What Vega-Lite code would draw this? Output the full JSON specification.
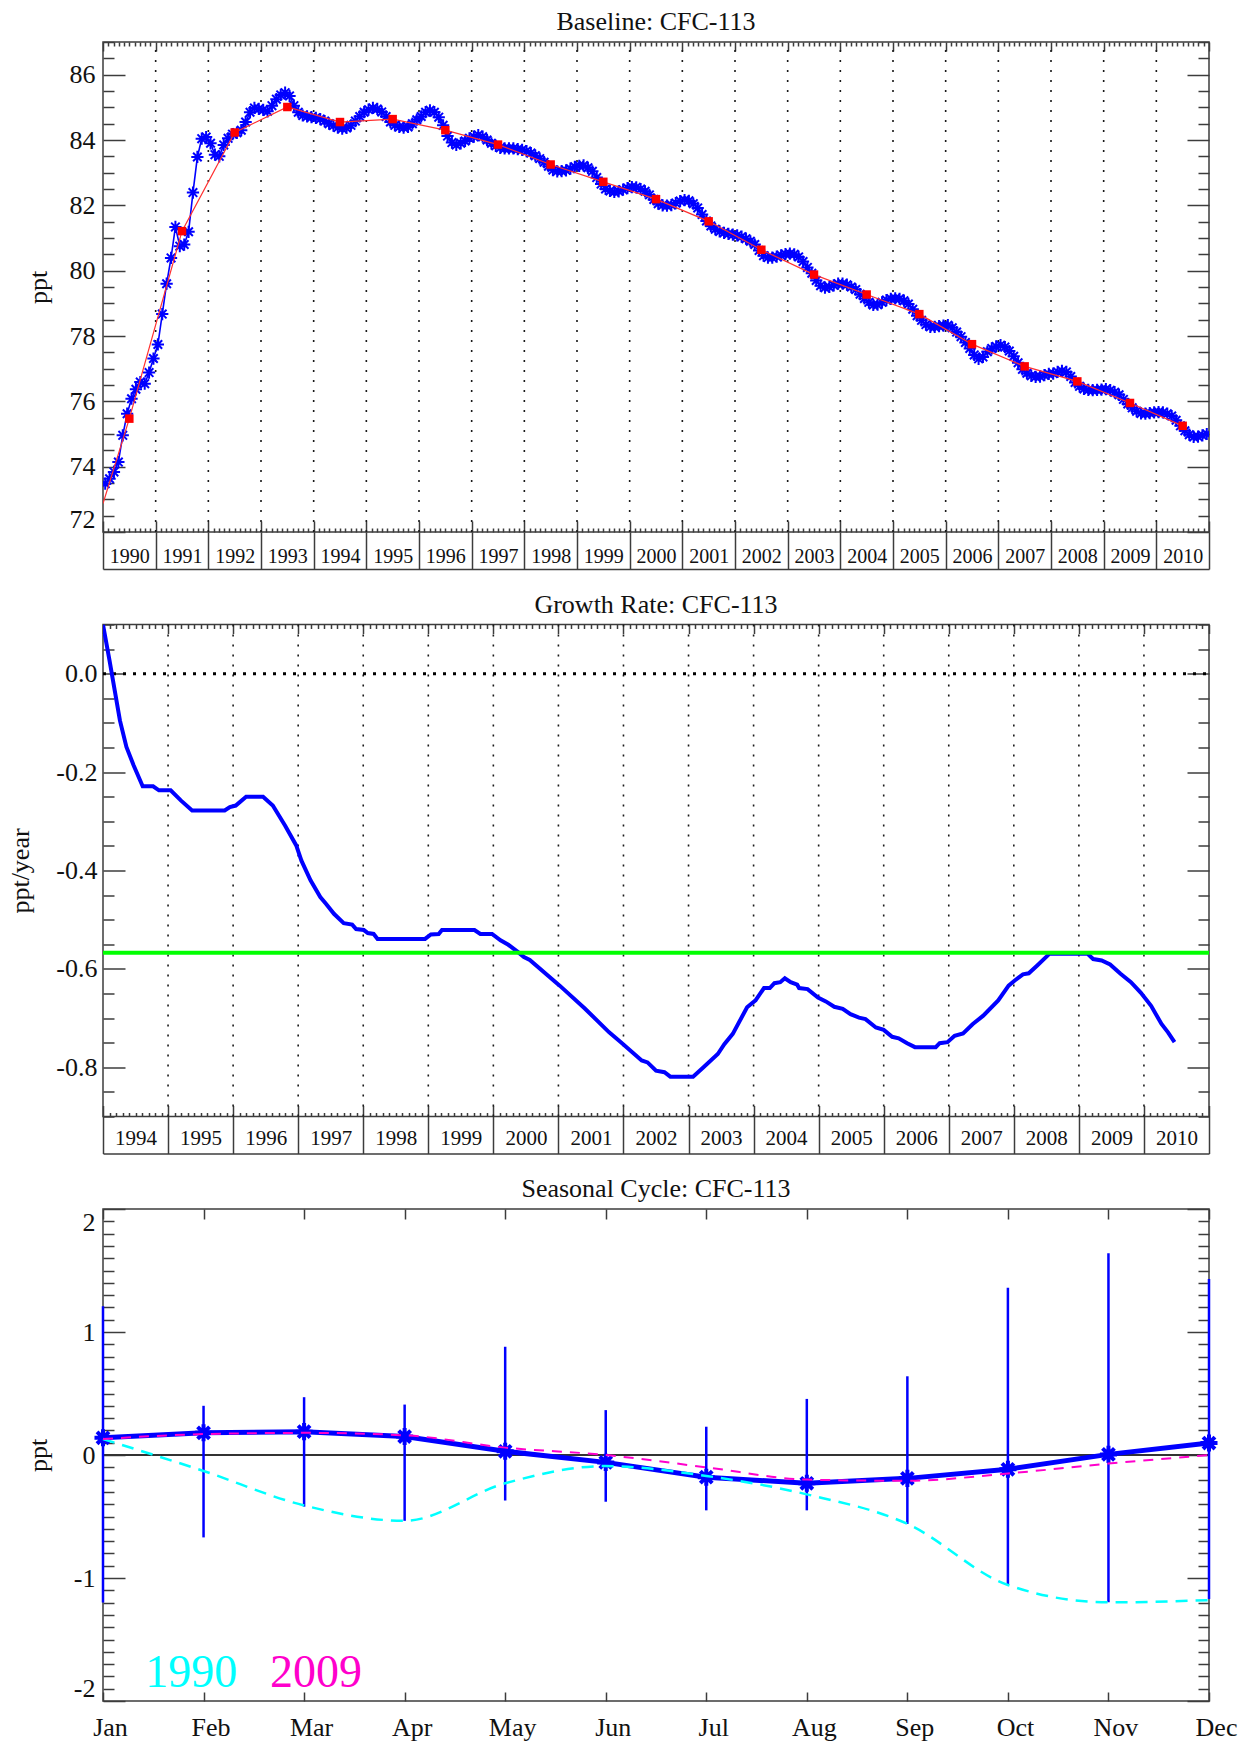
{
  "$schema": "https://vega.github.io/schema/vega-lite/v6.json",
  "background": "white",
  "padding": {"left": 7, "top": 8, "right": 10, "bottom": 2},
  "config": {
    "font": "Liberation Serif",
    "view": {"stroke": "#3c3c3c", "strokeWidth": 1.5},
    "axis": {
      "domain": false,
      "grid": false,
      "labels": false,
      "tickColor": "#3c3c3c",
      "tickWidth": 1.5,
      "labelFont": "Liberation Serif",
      "labelFontSize": 26,
      "labelColor": "#111111",
      "titleFont": "Liberation Serif",
      "titleFontSize": 26,
      "titleFontWeight": "normal",
      "titleColor": "#111111"
    },
    "title": {"font": "Liberation Serif", "fontSize": 26, "fontWeight": "normal", "color": "#111111"}
  },
  "datasets": {
    "base_monthly": [
      {"t":1990.042,"ppt":73.48},{"t":1990.125,"ppt":73.63},{"t":1990.208,"ppt":73.84},{"t":1990.292,"ppt":74.14},{"t":1990.375,"ppt":74.96},{"t":1990.458,"ppt":75.62},{"t":1990.542,"ppt":76.08},{"t":1990.625,"ppt":76.37},{"t":1990.708,"ppt":76.59},{"t":1990.792,"ppt":76.54},{"t":1990.875,"ppt":76.88},{"t":1990.958,"ppt":77.31},
      {"t":1991.042,"ppt":77.74},{"t":1991.125,"ppt":78.67},{"t":1991.208,"ppt":79.60},{"t":1991.292,"ppt":80.39},{"t":1991.375,"ppt":81.34},{"t":1991.458,"ppt":80.75},{"t":1991.542,"ppt":80.80},{"t":1991.625,"ppt":81.19},{"t":1991.708,"ppt":82.39},{"t":1991.792,"ppt":83.48},{"t":1991.875,"ppt":84.04},{"t":1991.958,"ppt":84.09},
      {"t":1992.042,"ppt":83.90},{"t":1992.125,"ppt":83.55},{"t":1992.208,"ppt":83.50},{"t":1992.292,"ppt":83.85},{"t":1992.375,"ppt":84.05},{"t":1992.458,"ppt":84.18},{"t":1992.542,"ppt":84.22},{"t":1992.625,"ppt":84.30},{"t":1992.708,"ppt":84.55},{"t":1992.792,"ppt":84.85},{"t":1992.875,"ppt":84.98},{"t":1992.958,"ppt":84.95},
      {"t":1993.042,"ppt":84.92},{"t":1993.125,"ppt":84.88},{"t":1993.208,"ppt":85.05},{"t":1993.292,"ppt":85.25},{"t":1993.375,"ppt":85.38},{"t":1993.458,"ppt":85.45},{"t":1993.542,"ppt":85.35},{"t":1993.625,"ppt":85.05},{"t":1993.708,"ppt":84.85},{"t":1993.792,"ppt":84.75},{"t":1993.875,"ppt":84.72},{"t":1993.958,"ppt":84.70},
      {"t":1994.042,"ppt":84.68},{"t":1994.125,"ppt":84.64},{"t":1994.208,"ppt":84.58},{"t":1994.292,"ppt":84.50},{"t":1994.375,"ppt":84.44},{"t":1994.458,"ppt":84.38},{"t":1994.542,"ppt":84.35},{"t":1994.625,"ppt":84.37},{"t":1994.708,"ppt":84.45},{"t":1994.792,"ppt":84.58},{"t":1994.875,"ppt":84.72},{"t":1994.958,"ppt":84.85},
      {"t":1995.042,"ppt":84.93},{"t":1995.125,"ppt":84.98},{"t":1995.208,"ppt":84.95},{"t":1995.292,"ppt":84.86},{"t":1995.375,"ppt":84.72},{"t":1995.458,"ppt":84.55},{"t":1995.542,"ppt":84.45},{"t":1995.625,"ppt":84.40},{"t":1995.708,"ppt":84.38},{"t":1995.792,"ppt":84.40},{"t":1995.875,"ppt":84.50},{"t":1995.958,"ppt":84.62},
      {"t":1996.042,"ppt":84.72},{"t":1996.125,"ppt":84.85},{"t":1996.208,"ppt":84.91},{"t":1996.292,"ppt":84.85},{"t":1996.375,"ppt":84.70},{"t":1996.458,"ppt":84.45},{"t":1996.542,"ppt":84.12},{"t":1996.625,"ppt":83.92},{"t":1996.708,"ppt":83.85},{"t":1996.792,"ppt":83.90},{"t":1996.875,"ppt":83.97},{"t":1996.958,"ppt":84.05},
      {"t":1997.042,"ppt":84.10},{"t":1997.125,"ppt":84.15},{"t":1997.208,"ppt":84.10},{"t":1997.292,"ppt":84.00},{"t":1997.375,"ppt":83.90},{"t":1997.458,"ppt":83.82},{"t":1997.542,"ppt":83.76},{"t":1997.625,"ppt":83.74},{"t":1997.708,"ppt":83.74},{"t":1997.792,"ppt":83.74},{"t":1997.875,"ppt":83.72},{"t":1997.958,"ppt":83.70},
      {"t":1998.042,"ppt":83.66},{"t":1998.125,"ppt":83.60},{"t":1998.208,"ppt":83.52},{"t":1998.292,"ppt":83.43},{"t":1998.375,"ppt":83.32},{"t":1998.458,"ppt":83.20},{"t":1998.542,"ppt":83.08},{"t":1998.625,"ppt":83.04},{"t":1998.708,"ppt":83.05},{"t":1998.792,"ppt":83.07},{"t":1998.875,"ppt":83.12},{"t":1998.958,"ppt":83.18},
      {"t":1999.042,"ppt":83.21},{"t":1999.125,"ppt":83.22},{"t":1999.208,"ppt":83.15},{"t":1999.292,"ppt":83.04},{"t":1999.375,"ppt":82.85},{"t":1999.458,"ppt":82.65},{"t":1999.542,"ppt":82.50},{"t":1999.625,"ppt":82.44},{"t":1999.708,"ppt":82.41},{"t":1999.792,"ppt":82.43},{"t":1999.875,"ppt":82.48},{"t":1999.958,"ppt":82.53},
      {"t":2000.042,"ppt":82.56},{"t":2000.125,"ppt":82.55},{"t":2000.208,"ppt":82.50},{"t":2000.292,"ppt":82.43},{"t":2000.375,"ppt":82.32},{"t":2000.458,"ppt":82.18},{"t":2000.542,"ppt":82.05},{"t":2000.625,"ppt":82.00},{"t":2000.708,"ppt":81.99},{"t":2000.792,"ppt":82.01},{"t":2000.875,"ppt":82.07},{"t":2000.958,"ppt":82.13},
      {"t":2001.042,"ppt":82.16},{"t":2001.125,"ppt":82.14},{"t":2001.208,"ppt":82.05},{"t":2001.292,"ppt":81.92},{"t":2001.375,"ppt":81.72},{"t":2001.458,"ppt":81.52},{"t":2001.542,"ppt":81.37},{"t":2001.625,"ppt":81.27},{"t":2001.708,"ppt":81.20},{"t":2001.792,"ppt":81.16},{"t":2001.875,"ppt":81.13},{"t":2001.958,"ppt":81.10},
      {"t":2002.042,"ppt":81.08},{"t":2002.125,"ppt":81.04},{"t":2002.208,"ppt":80.98},{"t":2002.292,"ppt":80.90},{"t":2002.375,"ppt":80.80},{"t":2002.458,"ppt":80.62},{"t":2002.542,"ppt":80.46},{"t":2002.625,"ppt":80.40},{"t":2002.708,"ppt":80.40},{"t":2002.792,"ppt":80.43},{"t":2002.875,"ppt":80.47},{"t":2002.958,"ppt":80.51},
      {"t":2003.042,"ppt":80.52},{"t":2003.125,"ppt":80.50},{"t":2003.208,"ppt":80.42},{"t":2003.292,"ppt":80.28},{"t":2003.375,"ppt":80.10},{"t":2003.458,"ppt":79.92},{"t":2003.542,"ppt":79.70},{"t":2003.625,"ppt":79.54},{"t":2003.708,"ppt":79.48},{"t":2003.792,"ppt":79.50},{"t":2003.875,"ppt":79.55},{"t":2003.958,"ppt":79.60},
      {"t":2004.042,"ppt":79.60},{"t":2004.125,"ppt":79.57},{"t":2004.208,"ppt":79.50},{"t":2004.292,"ppt":79.42},{"t":2004.375,"ppt":79.28},{"t":2004.458,"ppt":79.15},{"t":2004.542,"ppt":79.03},{"t":2004.625,"ppt":78.95},{"t":2004.708,"ppt":78.96},{"t":2004.792,"ppt":79.03},{"t":2004.875,"ppt":79.10},{"t":2004.958,"ppt":79.14},
      {"t":2005.042,"ppt":79.15},{"t":2005.125,"ppt":79.14},{"t":2005.208,"ppt":79.08},{"t":2005.292,"ppt":78.98},{"t":2005.375,"ppt":78.82},{"t":2005.458,"ppt":78.62},{"t":2005.542,"ppt":78.48},{"t":2005.625,"ppt":78.35},{"t":2005.708,"ppt":78.28},{"t":2005.792,"ppt":78.28},{"t":2005.875,"ppt":78.30},{"t":2005.958,"ppt":78.32},
      {"t":2006.042,"ppt":78.33},{"t":2006.125,"ppt":78.25},{"t":2006.208,"ppt":78.12},{"t":2006.292,"ppt":77.98},{"t":2006.375,"ppt":77.80},{"t":2006.458,"ppt":77.62},{"t":2006.542,"ppt":77.42},{"t":2006.625,"ppt":77.30},{"t":2006.708,"ppt":77.36},{"t":2006.792,"ppt":77.52},{"t":2006.875,"ppt":77.62},{"t":2006.958,"ppt":77.68},
      {"t":2007.042,"ppt":77.72},{"t":2007.125,"ppt":77.66},{"t":2007.208,"ppt":77.54},{"t":2007.292,"ppt":77.38},{"t":2007.375,"ppt":77.18},{"t":2007.458,"ppt":76.98},{"t":2007.542,"ppt":76.86},{"t":2007.625,"ppt":76.78},{"t":2007.708,"ppt":76.75},{"t":2007.792,"ppt":76.76},{"t":2007.875,"ppt":76.80},{"t":2007.958,"ppt":76.84},
      {"t":2008.042,"ppt":76.85},{"t":2008.125,"ppt":76.90},{"t":2008.208,"ppt":76.93},{"t":2008.292,"ppt":76.90},{"t":2008.375,"ppt":76.76},{"t":2008.458,"ppt":76.58},{"t":2008.542,"ppt":76.46},{"t":2008.625,"ppt":76.38},{"t":2008.708,"ppt":76.35},{"t":2008.792,"ppt":76.34},{"t":2008.875,"ppt":76.35},{"t":2008.958,"ppt":76.36},
      {"t":2009.042,"ppt":76.37},{"t":2009.125,"ppt":76.34},{"t":2009.208,"ppt":76.28},{"t":2009.292,"ppt":76.20},{"t":2009.375,"ppt":76.06},{"t":2009.458,"ppt":75.92},{"t":2009.542,"ppt":75.80},{"t":2009.625,"ppt":75.70},{"t":2009.708,"ppt":75.63},{"t":2009.792,"ppt":75.62},{"t":2009.875,"ppt":75.64},{"t":2009.958,"ppt":75.66},
      {"t":2010.042,"ppt":75.67},{"t":2010.125,"ppt":75.66},{"t":2010.208,"ppt":75.62},{"t":2010.292,"ppt":75.55},{"t":2010.375,"ppt":75.42},{"t":2010.458,"ppt":75.25},{"t":2010.542,"ppt":75.10},{"t":2010.625,"ppt":74.98},{"t":2010.708,"ppt":74.91},{"t":2010.792,"ppt":74.92},{"t":2010.875,"ppt":74.96},{"t":2010.958,"ppt":75.00}
    ],
    "base_annual": [
      {"t":1990.5,"ppt":75.47},{"t":1991.5,"ppt":81.21},{"t":1992.5,"ppt":84.23},{"t":1993.5,"ppt":85.01},{"t":1994.5,"ppt":84.55},{"t":1995.5,"ppt":84.64},{"t":1996.5,"ppt":84.30},{"t":1997.5,"ppt":83.86},{"t":1998.5,"ppt":83.25},{"t":1999.5,"ppt":82.72},{"t":2000.5,"ppt":82.19},{"t":2001.5,"ppt":81.51},{"t":2002.5,"ppt":80.64},{"t":2003.5,"ppt":79.88},{"t":2004.5,"ppt":79.27},{"t":2005.5,"ppt":78.67},{"t":2006.5,"ppt":77.75},{"t":2007.5,"ppt":77.07},{"t":2008.5,"ppt":76.61},{"t":2009.5,"ppt":75.95},{"t":2010.5,"ppt":75.25}
    ],
    "base_trend": [
      {"t":1990.0,"ppt":72.87},{"t":1990.5,"ppt":75.47},{"t":1991.5,"ppt":81.21},{"t":1992.5,"ppt":84.23},{"t":1993.5,"ppt":85.01},{"t":1994.5,"ppt":84.55},{"t":1995.5,"ppt":84.64},{"t":1996.5,"ppt":84.30},{"t":1997.5,"ppt":83.86},{"t":1998.5,"ppt":83.25},{"t":1999.5,"ppt":82.72},{"t":2000.5,"ppt":82.19},{"t":2001.5,"ppt":81.51},{"t":2002.5,"ppt":80.64},{"t":2003.5,"ppt":79.88},{"t":2004.5,"ppt":79.27},{"t":2005.5,"ppt":78.67},{"t":2006.5,"ppt":77.75},{"t":2007.5,"ppt":77.07},{"t":2008.5,"ppt":76.61},{"t":2009.5,"ppt":75.95},{"t":2010.5,"ppt":75.25}
    ],
    "year_lines_a": [
      {"year":1991},{"year":1992},{"year":1993},{"year":1994},{"year":1995},{"year":1996},{"year":1997},{"year":1998},{"year":1999},{"year":2000},{"year":2001},{"year":2002},{"year":2003},{"year":2004},{"year":2005},{"year":2006},{"year":2007},{"year":2008},{"year":2009},{"year":2010}
    ],
    "year_lines_b": [
      {"year":1995},{"year":1996},{"year":1997},{"year":1998},{"year":1999},{"year":2000},{"year":2001},{"year":2002},{"year":2003},{"year":2004},{"year":2005},{"year":2006},{"year":2007},{"year":2008},{"year":2009},{"year":2010}
    ],
    "growth": [
      {"t":1994.00,"rate":0.100},{"t":1994.10,"rate":0.027},{"t":1994.18,"rate":-0.034},{"t":1994.26,"rate":-0.095},{"t":1994.36,"rate":-0.149},{"t":1994.47,"rate":-0.186},{"t":1994.61,"rate":-0.229},{"t":1994.77,"rate":-0.229},{"t":1994.86,"rate":-0.237},{"t":1995.04,"rate":-0.237},
      {"t":1995.20,"rate":-0.258},{"t":1995.37,"rate":-0.278},{"t":1995.87,"rate":-0.278},{"t":1995.95,"rate":-0.271},{"t":1996.04,"rate":-0.268},{"t":1996.20,"rate":-0.250},{"t":1996.46,"rate":-0.250},{"t":1996.61,"rate":-0.268},{"t":1996.80,"rate":-0.309},{"t":1996.97,"rate":-0.349},
      {"t":1997.05,"rate":-0.380},{"t":1997.19,"rate":-0.420},{"t":1997.34,"rate":-0.454},{"t":1997.43,"rate":-0.468},{"t":1997.55,"rate":-0.488},{"t":1997.70,"rate":-0.507},{"t":1997.83,"rate":-0.510},{"t":1997.89,"rate":-0.519},{"t":1998.01,"rate":-0.521},{"t":1998.07,"rate":-0.527},
      {"t":1998.16,"rate":-0.529},{"t":1998.22,"rate":-0.539},{"t":1998.95,"rate":-0.539},{"t":1999.04,"rate":-0.530},{"t":1999.16,"rate":-0.529},{"t":1999.21,"rate":-0.521},{"t":1999.71,"rate":-0.521},{"t":1999.80,"rate":-0.529},{"t":1999.98,"rate":-0.529},{"t":2000.11,"rate":-0.542},
      {"t":2000.23,"rate":-0.551},{"t":2000.38,"rate":-0.566},{"t":2000.47,"rate":-0.576},{"t":2000.56,"rate":-0.582},{"t":2001.02,"rate":-0.634},{"t":2001.41,"rate":-0.681},{"t":2001.78,"rate":-0.729},{"t":2001.96,"rate":-0.749},{"t":2002.28,"rate":-0.786},{"t":2002.37,"rate":-0.790},
      {"t":2002.50,"rate":-0.807},{"t":2002.63,"rate":-0.810},{"t":2002.72,"rate":-0.819},{"t":2003.07,"rate":-0.819},{"t":2003.23,"rate":-0.800},{"t":2003.45,"rate":-0.773},{"t":2003.55,"rate":-0.753},{"t":2003.68,"rate":-0.732},{"t":2003.90,"rate":-0.678},{"t":2004.03,"rate":-0.664},
      {"t":2004.16,"rate":-0.639},{"t":2004.25,"rate":-0.639},{"t":2004.32,"rate":-0.629},{"t":2004.41,"rate":-0.627},{"t":2004.48,"rate":-0.619},{"t":2004.57,"rate":-0.627},{"t":2004.67,"rate":-0.632},{"t":2004.70,"rate":-0.639},{"t":2004.83,"rate":-0.641},{"t":2004.99,"rate":-0.658},
      {"t":2005.11,"rate":-0.666},{"t":2005.24,"rate":-0.677},{"t":2005.37,"rate":-0.681},{"t":2005.49,"rate":-0.692},{"t":2005.62,"rate":-0.699},{"t":2005.72,"rate":-0.702},{"t":2005.88,"rate":-0.719},{"t":2006.00,"rate":-0.724},{"t":2006.13,"rate":-0.738},{"t":2006.23,"rate":-0.741},
      {"t":2006.36,"rate":-0.751},{"t":2006.48,"rate":-0.759},{"t":2006.80,"rate":-0.759},{"t":2006.86,"rate":-0.751},{"t":2006.98,"rate":-0.749},{"t":2007.09,"rate":-0.736},{"t":2007.22,"rate":-0.731},{"t":2007.37,"rate":-0.712},{"t":2007.53,"rate":-0.695},{"t":2007.76,"rate":-0.664},
      {"t":2007.92,"rate":-0.634},{"t":2008.01,"rate":-0.624},{"t":2008.14,"rate":-0.611},{"t":2008.23,"rate":-0.609},{"t":2008.36,"rate":-0.593},{"t":2008.55,"rate":-0.569},{"t":2009.13,"rate":-0.569},{"t":2009.22,"rate":-0.580},{"t":2009.35,"rate":-0.583},{"t":2009.48,"rate":-0.591},
      {"t":2009.64,"rate":-0.610},{"t":2009.80,"rate":-0.627},{"t":2009.95,"rate":-0.648},{"t":2010.11,"rate":-0.675},{"t":2010.27,"rate":-0.712},{"t":2010.37,"rate":-0.729},{"t":2010.47,"rate":-0.749}
    ],
    "seasonal": [
      {"m":1,"mean":0.14,"lo":-1.20,"hi":1.21,"y1990":0.13,"y2009":0.13},
      {"m":2,"mean":0.18,"lo":-0.67,"hi":0.40,"y1990":-0.13,"y2009":0.17},
      {"m":3,"mean":0.19,"lo":-0.42,"hi":0.47,"y1990":-0.41,"y2009":0.18},
      {"m":4,"mean":0.15,"lo":-0.535,"hi":0.41,"y1990":-0.535,"y2009":0.16},
      {"m":5,"mean":0.03,"lo":-0.37,"hi":0.88,"y1990":-0.23,"y2009":0.06},
      {"m":6,"mean":-0.06,"lo":-0.38,"hi":0.365,"y1990":-0.09,"y2009":0.0},
      {"m":7,"mean":-0.18,"lo":-0.45,"hi":0.23,"y1990":-0.17,"y2009":-0.10},
      {"m":8,"mean":-0.23,"lo":-0.45,"hi":0.456,"y1990":-0.32,"y2009":-0.20},
      {"m":9,"mean":-0.19,"lo":-0.56,"hi":0.64,"y1990":-0.56,"y2009":-0.21},
      {"m":10,"mean":-0.116,"lo":-1.057,"hi":1.36,"y1990":-1.057,"y2009":-0.15},
      {"m":11,"mean":0.005,"lo":-1.198,"hi":1.64,"y1990":-1.198,"y2009":-0.07},
      {"m":12,"mean":0.097,"lo":-1.17,"hi":1.43,"y1990":-1.18,"y2009":0.0}
    ]
  },
  "spacing": 92.5,
  "bounds": "flush",
  "vconcat": [
    {
      "width": 1106,
      "height": 490,
      "title": {"text": "Baseline: CFC-113", "offset": 6},
      "resolve": {"axis": {"x": "independent", "y": "independent"}},
      "layer": [
        {
          "data": {"name": "year_lines_a"},
          "mark": {"type": "rule", "color": "#1a1a1a", "strokeWidth": 1.6, "strokeDash": [2, 8]},
          "encoding": {
            "x": {"field": "year", "type": "quantitative", "scale": {"domain": [1990, 2011], "nice": false, "zero": false},
                  "axis": {"orient": "bottom", "tickCount": 210, "tickSize": -11, "title": null,
                           "tickDash": {"condition": {"test": "abs(datum.value - round(datum.value)) < 0.01", "value": [40, 1]}, "value": [4, 30]}}},
            "y": {"datum": 72, "type": "quantitative", "scale": {"domain": [72, 87], "nice": false, "zero": false},
                  "axis": {"orient": "right", "tickCount": 30, "tickSize": -22, "title": null,
                           "tickDash": {"condition": {"test": "abs(datum.value / 2 - round(datum.value / 2)) < 0.01", "value": [40, 1]}, "value": [11, 40]}}},
            "y2": {"datum": 87}
          }
        },
        {
          "data": {"name": "base_monthly"},
          "mark": {"type": "line", "color": "#0000ff", "strokeWidth": 1.6, "clip": true},
          "encoding": {
            "x": {"field": "t", "type": "quantitative", "scale": {"domain": [1990, 2011], "nice": false, "zero": false},
                  "axis": {"orient": "top", "tickCount": 210, "tickSize": -9, "title": null,
                           "tickDash": {"condition": {"test": "abs(datum.value - round(datum.value)) < 0.01", "value": [40, 1]}, "value": [4, 30]}}},
            "y": {"field": "ppt", "type": "quantitative", "scale": {"domain": [72, 87], "nice": false, "zero": false}, "axis": null}
          }
        },
        {
          "data": {"name": "base_monthly"},
          "mark": {"type": "point", "shape": "M-1,0L1,0M0,-1L0,1M-0.7,-0.7L0.7,0.7M-0.7,0.7L0.7,-0.7", "size": 150, "filled": false, "color": "#0000ff", "strokeWidth": 2, "opacity": 1, "clip": true},
          "encoding": {
            "x": {"field": "t", "type": "quantitative", "scale": {"domain": [1990, 2011], "nice": false, "zero": false},
                  "axis": {"orient": "bottom", "offset": 37, "domain": true, "domainColor": "#3c3c3c", "domainWidth": 1.5,
                           "values": [1990,1991,1992,1993,1994,1995,1996,1997,1998,1999,2000,2001,2002,2003,2004,2005,2006,2007,2008,2009,2010,2011],
                           "tickSize": -37, "labels": true, "labelFontSize": 20, "labelOffset": 26.33, "labelPadding": 30, "labelBaseline": "alphabetic",
                           "labelFlush": false, "labelOverlap": false, "labelExpr": "datum.value < 2011 ? '' + datum.value : ''", "title": null}},
            "y": {"field": "ppt", "type": "quantitative", "scale": {"domain": [72, 87], "nice": false, "zero": false}, "axis": null}
          }
        },
        {
          "data": {"name": "base_trend"},
          "mark": {"type": "line", "color": "#ff3030", "strokeWidth": 1.2, "clip": true},
          "encoding": {
            "x": {"field": "t", "type": "quantitative", "scale": {"domain": [1990, 2011], "nice": false, "zero": false}, "axis": null},
            "y": {"field": "ppt", "type": "quantitative", "scale": {"domain": [72, 87], "nice": false, "zero": false},
                  "axis": {"orient": "left", "tickCount": 30, "tickSize": -22, "labels": true, "labelPadding": 30, "labelFlush": true, "labelOverlap": false,
                           "tickDash": {"condition": {"test": "abs(datum.value / 2 - round(datum.value / 2)) < 0.01", "value": [40, 1]}, "value": [11, 40]},
                           "labelExpr": "abs(datum.value / 2 - round(datum.value / 2)) < 0.01 && datum.value < 86.5 ? '' + round(datum.value) : ''",
                           "title": "ppt", "titlePadding": 18}}
          }
        },
        {
          "data": {"name": "base_annual"},
          "mark": {"type": "point", "shape": "square", "size": 72, "filled": true, "color": "#ff0000", "opacity": 1},
          "encoding": {
            "x": {"field": "t", "type": "quantitative", "scale": {"domain": [1990, 2011], "nice": false, "zero": false}, "axis": null},
            "y": {"field": "ppt", "type": "quantitative", "scale": {"domain": [72, 87], "nice": false, "zero": false}, "axis": null}
          }
        }
      ]
    },
    {
      "width": 1106,
      "height": 492,
      "title": {"text": "Growth Rate: CFC-113", "offset": 6},
      "resolve": {"axis": {"x": "independent", "y": "independent"}},
      "layer": [
        {
          "data": {"name": "year_lines_b"},
          "mark": {"type": "rule", "color": "#1a1a1a", "strokeWidth": 1.6, "strokeDash": [2, 8]},
          "encoding": {
            "x": {"field": "year", "type": "quantitative", "scale": {"domain": [1994, 2011], "nice": false, "zero": false},
                  "axis": {"orient": "bottom", "tickCount": 170, "tickSize": -11, "title": null,
                           "tickDash": {"condition": {"test": "abs(datum.value - round(datum.value)) < 0.01", "value": [40, 1]}, "value": [4, 30]}}},
            "y": {"datum": -0.9, "type": "quantitative", "scale": {"domain": [-0.9, 0.1], "nice": false, "zero": false},
                  "axis": {"orient": "right", "tickCount": 20, "tickSize": -22, "title": null,
                           "tickDash": {"condition": {"test": "abs(datum.value * 5 - round(datum.value * 5)) < 0.01", "value": [40, 1]}, "value": [11, 40]}}},
            "y2": {"datum": 0.1}
          }
        },
        {
          "data": {"values": [{"level": 0}]},
          "mark": {"type": "rule", "color": "#000000", "strokeWidth": 3, "strokeDash": [3, 7]},
          "encoding": {
            "x": {"datum": 1994, "type": "quantitative", "scale": {"domain": [1994, 2011], "nice": false, "zero": false},
                  "axis": {"orient": "top", "tickCount": 170, "tickSize": -9, "title": null,
                           "tickDash": {"condition": {"test": "abs(datum.value - round(datum.value)) < 0.01", "value": [40, 1]}, "value": [4, 30]}}},
            "x2": {"datum": 2011},
            "y": {"field": "level", "type": "quantitative", "scale": {"domain": [-0.9, 0.1], "nice": false, "zero": false}, "axis": null}
          }
        },
        {
          "data": {"name": "growth"},
          "mark": {"type": "line", "color": "#0000ff", "strokeWidth": 4, "clip": true},
          "encoding": {
            "x": {"field": "t", "type": "quantitative", "scale": {"domain": [1994, 2011], "nice": false, "zero": false},
                  "axis": {"orient": "bottom", "offset": 37, "domain": true, "domainColor": "#3c3c3c", "domainWidth": 1.5,
                           "values": [1994,1995,1996,1997,1998,1999,2000,2001,2002,2003,2004,2005,2006,2007,2008,2009,2010,2011],
                           "tickSize": -37, "labels": true, "labelFontSize": 21, "labelOffset": 32.53, "labelPadding": 28, "labelBaseline": "alphabetic",
                           "labelFlush": false, "labelOverlap": false, "labelExpr": "datum.value < 2011 ? '' + datum.value : ''", "title": null}},
            "y": {"field": "rate", "type": "quantitative", "scale": {"domain": [-0.9, 0.1], "nice": false, "zero": false},
                  "axis": {"orient": "left", "tickCount": 20, "tickSize": -22, "labels": true, "labelPadding": 28, "labelOverlap": false, "labelFlush": true,
                           "tickDash": {"condition": {"test": "abs(datum.value * 5 - round(datum.value * 5)) < 0.01", "value": [40, 1]}, "value": [11, 40]},
                           "labelExpr": "abs(datum.value * 5 - round(datum.value * 5)) < 0.01 ? (datum.value < -0.01 ? '-' + format(abs(datum.value), '.1f') : '0.0') : ''",
                           "title": "ppt/year", "titlePadding": 22}}
          }
        },
        {
          "data": {"values": [{"level": -0.567}]},
          "mark": {"type": "rule", "color": "#00ff00", "strokeWidth": 4},
          "encoding": {
            "x": {"datum": 1994, "type": "quantitative", "scale": {"domain": [1994, 2011], "nice": false, "zero": false}, "axis": null},
            "x2": {"datum": 2011},
            "y": {"field": "level", "type": "quantitative", "scale": {"domain": [-0.9, 0.1], "nice": false, "zero": false}, "axis": null}
          }
        }
      ]
    },
    {
      "width": 1106,
      "height": 492,
      "title": {"text": "Seasonal Cycle: CFC-113", "offset": 6},
      "resolve": {"axis": {"x": "independent", "y": "independent"}},
      "layer": [
        {
          "data": {"values": [{"level": 0}]},
          "mark": {"type": "rule", "color": "#333333", "strokeWidth": 2},
          "encoding": {
            "x": {"datum": 1, "type": "quantitative", "scale": {"domain": [1, 12], "nice": false, "zero": false},
                  "axis": {"orient": "top", "values": [1,2,3,4,5,6,7,8,9,10,11,12], "tickSize": -10, "title": null}},
            "x2": {"datum": 12},
            "y": {"field": "level", "type": "quantitative", "scale": {"domain": [-2, 2], "nice": false, "zero": false},
                  "axis": {"orient": "right", "tickCount": 40, "tickSize": -22, "title": null,
                           "tickDash": {"condition": {"test": "abs(datum.value - round(datum.value)) < 0.01", "value": [40, 1]}, "value": [11, 40]}}}
          }
        },
        {
          "data": {"name": "seasonal"},
          "mark": {"type": "rule", "color": "#0000ff", "strokeWidth": 2.5},
          "encoding": {
            "x": {"field": "m", "type": "quantitative", "scale": {"domain": [1, 12], "nice": false, "zero": false}, "axis": null},
            "y": {"field": "lo", "type": "quantitative", "scale": {"domain": [-2, 2], "nice": false, "zero": false}, "axis": null},
            "y2": {"field": "hi"}
          }
        },
        {
          "data": {"name": "seasonal"},
          "mark": {"type": "line", "color": "#0000ff", "strokeWidth": 5},
          "encoding": {
            "x": {"field": "m", "type": "quantitative", "scale": {"domain": [1, 12], "nice": false, "zero": false},
                  "axis": {"orient": "bottom", "values": [1,2,3,4,5,6,7,8,9,10,11,12], "tickSize": -9, "labels": true, "labelPadding": 22, "labelFlush": false, "labelOffset": 7, "labelOverlap": false,
                           "labelExpr": "['Jan','Feb','Mar','Apr','May','Jun','Jul','Aug','Sep','Oct','Nov','Dec'][datum.value - 1]", "title": null}},
            "y": {"field": "mean", "type": "quantitative", "scale": {"domain": [-2, 2], "nice": false, "zero": false},
                  "axis": {"orient": "left", "tickCount": 40, "tickSize": -22, "labels": true, "labelPadding": 30, "labelFlush": true, "labelOverlap": false,
                           "tickDash": {"condition": {"test": "abs(datum.value - round(datum.value)) < 0.01", "value": [40, 1]}, "value": [11, 40]},
                           "labelExpr": "abs(datum.value - round(datum.value)) < 0.01 ? (datum.value < -0.5 ? '-' + abs(round(datum.value)) : '' + abs(round(datum.value))) : ''",
                           "title": "ppt", "titlePadding": 22}}
          }
        },
        {
          "data": {"name": "seasonal"},
          "mark": {"type": "point", "shape": "M-1,0L1,0M0,-1L0,1M-0.7,-0.7L0.7,0.7M-0.7,0.7L0.7,-0.7", "size": 290, "filled": false, "color": "#0000ff", "strokeWidth": 4, "opacity": 1},
          "encoding": {
            "x": {"field": "m", "type": "quantitative", "scale": {"domain": [1, 12], "nice": false, "zero": false}, "axis": null},
            "y": {"field": "mean", "type": "quantitative", "scale": {"domain": [-2, 2], "nice": false, "zero": false}, "axis": null}
          }
        },
        {
          "data": {"name": "seasonal"},
          "mark": {"type": "line", "color": "#00ffff", "strokeWidth": 2.5, "strokeDash": [12, 8], "interpolate": "monotone"},
          "encoding": {
            "x": {"field": "m", "type": "quantitative", "scale": {"domain": [1, 12], "nice": false, "zero": false}, "axis": null},
            "y": {"field": "y1990", "type": "quantitative", "scale": {"domain": [-2, 2], "nice": false, "zero": false}, "axis": null}
          }
        },
        {
          "data": {"name": "seasonal"},
          "mark": {"type": "line", "color": "#ff00cc", "strokeWidth": 2, "strokeDash": [10, 8], "interpolate": "monotone"},
          "encoding": {
            "x": {"field": "m", "type": "quantitative", "scale": {"domain": [1, 12], "nice": false, "zero": false}, "axis": null},
            "y": {"field": "y2009", "type": "quantitative", "scale": {"domain": [-2, 2], "nice": false, "zero": false}, "axis": null}
          }
        },
        {
          "data": {"values": [{"label": "1990"}]},
          "mark": {"type": "text", "color": "#00ffff", "fontSize": 46, "align": "left", "baseline": "alphabetic"},
          "encoding": {
            "x": {"datum": 1.42, "type": "quantitative", "scale": {"domain": [1, 12], "nice": false, "zero": false}, "axis": null},
            "y": {"datum": -1.89, "type": "quantitative", "scale": {"domain": [-2, 2], "nice": false, "zero": false}, "axis": null},
            "text": {"field": "label", "type": "nominal"}
          }
        },
        {
          "data": {"values": [{"label": "2009"}]},
          "mark": {"type": "text", "color": "#ff00cc", "fontSize": 46, "align": "left", "baseline": "alphabetic"},
          "encoding": {
            "x": {"datum": 2.66, "type": "quantitative", "scale": {"domain": [1, 12], "nice": false, "zero": false}, "axis": null},
            "y": {"datum": -1.89, "type": "quantitative", "scale": {"domain": [-2, 2], "nice": false, "zero": false}, "axis": null},
            "text": {"field": "label", "type": "nominal"}
          }
        }
      ]
    }
  ]
}
